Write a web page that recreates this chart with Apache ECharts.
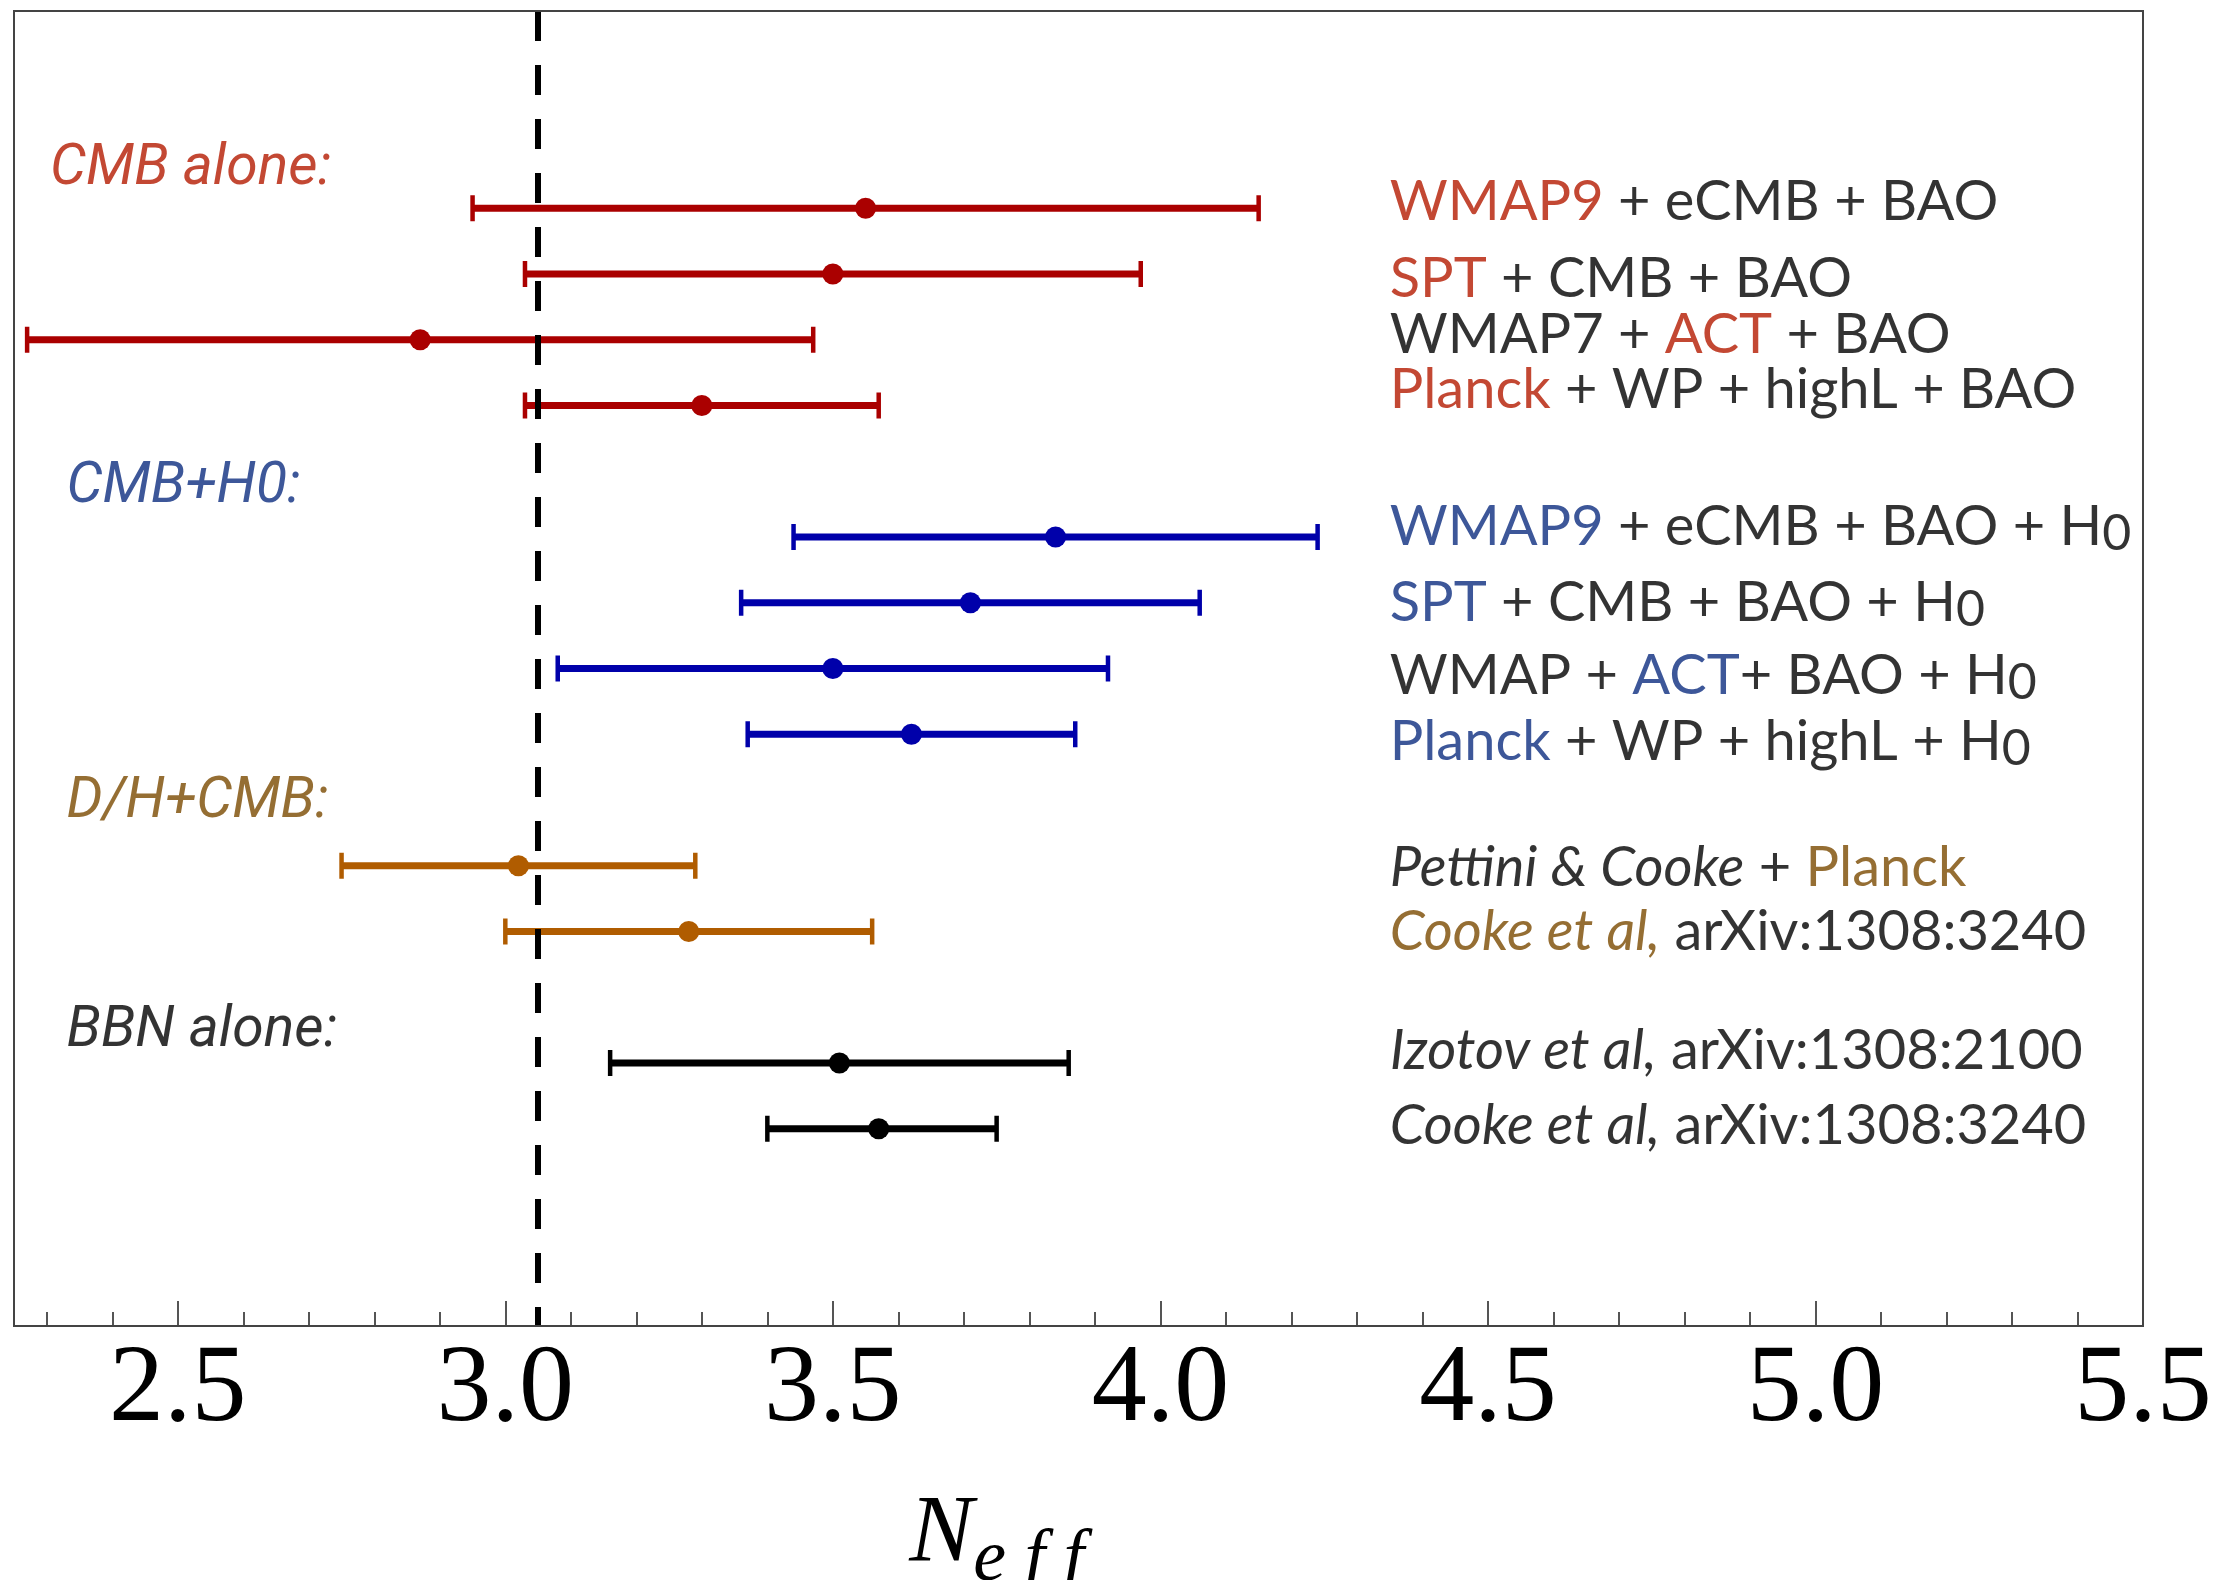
<!DOCTYPE html>
<html lang="en" style="height: 100%">
<head>
  <meta charset="utf-8">
</head>
<body style="height: 100%; margin: 0; background-color:#ffffff;">
  <div id="container" style="height: 100%"></div>

<script src="https://fastly.jsdelivr.net/npm/echarts@6/dist/echarts.min.js"></script>

<script>
  var dom = document.getElementById('container');
  var myChart = echarts.init(dom);

  // rows are counted from the top, gaps separate the groups
  var cmbRows = [0, 1, 2, 3];
  var cmbLow  = [2.95, 3.03, 2.27, 3.03];
  var cmbMid  = [3.55, 3.50, 2.87, 3.30];
  var cmbHigh = [4.15, 3.97, 3.47, 3.57];

  var h0Rows = [5, 6, 7, 8];
  var h0Low  = [3.44, 3.36, 3.08, 3.37];
  var h0Mid  = [3.84, 3.71, 3.50, 3.62];
  var h0High = [4.24, 4.06, 3.92, 3.87];

  var dhRows = [10, 11];
  var dhLow  = [2.75, 3.00];
  var dhMid  = [3.02, 3.28];
  var dhHigh = [3.29, 3.56];

  var bbnRows = [13, 14];
  var bbnLow  = [3.16, 3.40];
  var bbnMid  = [3.51, 3.57];
  var bbnHigh = [3.86, 3.75];

  var standardNeff = 3.046;

  var labelRows = [-0.09, 1.07, 1.93, 2.77, 4.85, 6.0, 7.11, 8.12, 10.03, 11.0, 12.82, 13.96];
  var labelTexts = [
    '{r|WMAP9} + eCMB + BAO',
    '{r|SPT} + CMB + BAO',
    'WMAP7 + {r|ACT} + BAO',
    '{r|Planck} + WP + highL + BAO',
    '{b|WMAP9} + eCMB + BAO + H{s|0}',
    '{b|SPT} + CMB + BAO + H{s|0}',
    'WMAP + {b|ACT}+ BAO + H{s|0}',
    '{b|Planck} + WP + highL + H{s|0}',
    '{i|Pettini & Cooke} + {o|Planck}',
    '{oi|Cooke et al,} arXiv:1308:3240',
    '{i|Izotov et al,} arXiv:1308:2100',
    '{i|Cooke et al,} arXiv:1308:3240'
  ];

  var headerTexts = ['CMB alone:', 'CMB+H0:', 'D/H+CMB:', 'BBN alone:'];
  var headerRows = [-0.58, 4.25, 9.04, 12.53];
  var headerX = [2.305, 2.33, 2.33, 2.33];
  var headerColors = ['#b41a00', '#0d2d80', '#7a4a00', '#000000'];

  var LABEL_X = 4.35;
  var labelFont = 'Lato, "Open Sans", sans-serif';

  function zip(rows, lo, mid, hi) {
    return rows.map(function (r, i) { return [r, lo[i], mid[i], hi[i]]; });
  }

  function errorBar(color) {
    return function (params, api) {
      var row = api.value(0);
      var lo = api.coord([api.value(1), row]);
      var mid = api.coord([api.value(2), row]);
      var hi = api.coord([api.value(3), row]);
      var cap = 13;
      return {
        type: 'group',
        children: [
          { type: 'line', shape: { x1: lo[0], y1: lo[1], x2: hi[0], y2: hi[1] }, style: { stroke: color, lineWidth: 7 } },
          { type: 'line', shape: { x1: lo[0], y1: lo[1] - cap, x2: lo[0], y2: lo[1] + cap }, style: { stroke: color, lineWidth: 4.5 } },
          { type: 'line', shape: { x1: hi[0], y1: hi[1] - cap, x2: hi[0], y2: hi[1] + cap }, style: { stroke: color, lineWidth: 4.5 } },
          { type: 'circle', shape: { cx: mid[0], cy: mid[1], r: 10.5 }, style: { fill: color } }
        ]
      };
    };
  }

  function barSeries(data, color) {
    return {
      type: 'custom',
      renderItem: errorBar(color),
      encode: { x: [1, 2, 3], y: 0 },
      data: data,
      silent: true
    };
  }

  var option = {
    animation: false,
    grid: { left: -149.75, right: 85, top: 11, bottom: 254, outerBoundsMode: 'none', containLabel: false },
    graphic: [{
      type: 'rect',
      shape: { x: 14, y: 11, width: 2129, height: 1315 },
      style: { fill: null, stroke: '#444', lineWidth: 2 },
      z: 100
    }],
    xAxis: {
      type: 'value',
      min: 2.0,
      max: 5.5,
      interval: 0.5,
      splitLine: { show: false },
      axisLine: { show: false, onZero: false },
      axisTick: { show: true, inside: true, length: 25, lineStyle: { color: '#555', width: 2 } },
      minorTick: { show: true, splitNumber: 5, length: 14, lineStyle: { color: '#555', width: 2 } },
      axisLabel: {
        margin: 10,
        fontFamily: '"Liberation Serif", "DejaVu Serif", serif',
        fontSize: 110,
        color: '#000',
        formatter: function (v) { return v.toFixed(1); }
      },
      name: '{n|N}{s|e f f}',
      nameLocation: 'middle',
      nameGap: 162,
      nameTextStyle: {
        rich: {
          n: { fontFamily: '"Liberation Serif", serif', fontStyle: 'italic', fontSize: 96, color: '#000', lineHeight: 110, verticalAlign: 'top' },
          s: { fontFamily: '"Liberation Serif", serif', fontStyle: 'italic', fontSize: 74, color: '#000', lineHeight: 110, verticalAlign: 'bottom' }
        }
      }
    },
    yAxis: {
      type: 'value',
      min: -3,
      max: 17,
      inverse: true,
      show: false
    },
    series: [
      barSeries(zip(cmbRows, cmbLow, cmbMid, cmbHigh), '#aa0000'),
      barSeries(zip(h0Rows, h0Low, h0Mid, h0High), '#0000aa'),
      barSeries(zip(dhRows, dhLow, dhMid, dhHigh), '#b05c00'),
      barSeries(zip(bbnRows, bbnLow, bbnMid, bbnHigh), '#000000'),
      {
        type: 'line',
        data: [],
        markLine: {
          silent: true,
          symbol: 'none',
          label: { show: false },
          lineStyle: { type: [30, 24], width: 6, color: '#000' },
          data: [{ xAxis: standardNeff }]
        }
      },
      {
        type: 'scatter',
        symbolSize: 0,
        silent: true,
        data: labelRows.map(function (r, i) { return [LABEL_X, r, i]; }),
        label: {
          show: true,
          position: 'right',
          distance: 0,
          fontFamily: labelFont,
          fontSize: 56,
          color: '#000',
          formatter: function (p) { return labelTexts[p.value[2]]; },
          rich: {
            r: { fontFamily: labelFont, fontSize: 56, color: '#b41a00', lineHeight: 64 },
            b: { fontFamily: labelFont, fontSize: 56, color: '#0d2d80', lineHeight: 64 },
            o: { fontFamily: labelFont, fontSize: 56, color: '#7a4a00', lineHeight: 64 },
            i: { fontFamily: labelFont, fontSize: 56, fontStyle: 'italic', color: '#000', lineHeight: 64 },
            oi: { fontFamily: labelFont, fontSize: 56, fontStyle: 'italic', color: '#7a4a00', lineHeight: 64 },
            s: { fontFamily: labelFont, fontSize: 50, color: '#000', lineHeight: 54, verticalAlign: 'bottom' }
          }
        }
      },
      {
        type: 'scatter',
        symbolSize: 0,
        silent: true,
        data: headerRows.map(function (r, i) {
          return { value: [headerX[i], r, i], label: { color: headerColors[i] } };
        }),
        label: {
          show: true,
          position: 'right',
          distance: 0,
          fontFamily: 'Roboto, sans-serif',
          fontStyle: 'italic',
          fontSize: 57,
          formatter: function (p) { return headerTexts[p.value[2]]; }
        }
      }
    ]
  };

  myChart.setOption(option);

  window.addEventListener('resize', myChart.resize);
</script>

</body>
</html>
